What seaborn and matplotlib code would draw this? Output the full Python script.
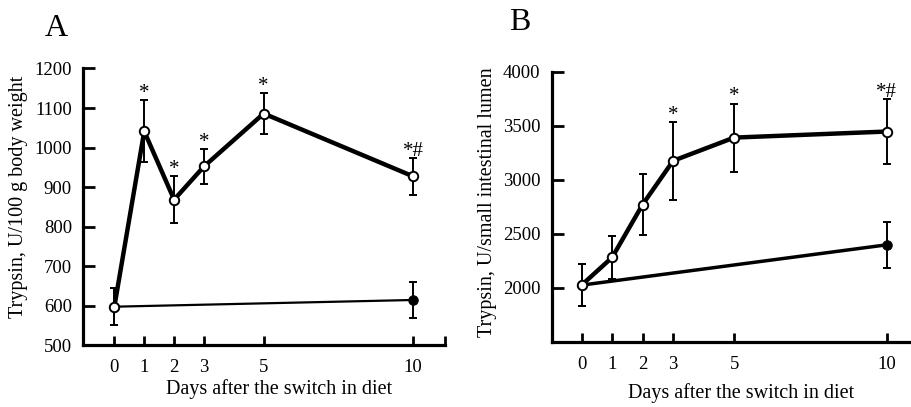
import numpy as np
import pandas as pd
import seaborn as sns
import matplotlib.pyplot as plt

# Days after the switch in diet
days_open = [0, 1, 2, 3, 5, 10]
days_filled = [0, 10]

# Panel A: trypsin, U/100 g body weight
a_open = [597, 1041, 868, 952, 1086, 927]
a_open_err = [47, 78, 60, 45, 52, 47]
a_filled = [597, 614]
a_filled_err = [47, 46]
a_marks = ["", "*", "*", "*", "*", "*#"]

# Panel B: trypsin, U/small intestinal lumen
b_open = [2024, 2280, 2770, 3175, 3390, 3446]
b_open_err = [195, 200, 280, 360, 315, 300]
b_filled = [2024, 2397]
b_filled_err = [195, 212]
b_marks = ["", "", "", "*", "*", "*#"]

sns.set_style("ticks")
plt.rcParams['font.family'] = ['Liberation Serif', 'DejaVu Serif']
plt.rcParams.update({"text.color": "black", "axes.labelcolor": "black",
                     "xtick.color": "black", "ytick.color": "black",
                     "axes.edgecolor": "black"})

fig = plt.figure(figsize=(9.11, 4.07), dpi=100)
ax_a = fig.add_axes([0.0911, 0.1523, 0.3974, 0.6794])
ax_b = fig.add_axes([0.6056, 0.1604, 0.3944, 0.6634])


def draw_panel(ax, y_open, e_open, y_filled, e_filled, marks, filled_lw):
    df_open = pd.DataFrame({"day": days_open, "val": y_open})
    df_filled = pd.DataFrame({"day": days_filled, "val": y_filled})
    ax.errorbar(days_open, y_open, yerr=e_open, fmt="none", ecolor="black",
                elinewidth=1.4, capsize=3, capthick=1.4, zorder=2)
    ax.errorbar(days_filled, y_filled, yerr=e_filled, fmt="none", ecolor="black",
                elinewidth=1.4, capsize=3, capthick=1.4, zorder=2)
    sns.lineplot(data=df_filled, x="day", y="val", ax=ax, color="black",
                 linewidth=filled_lw, marker="o", markersize=6.8, markerfacecolor="black",
                 markeredgecolor="black", zorder=3)
    sns.lineplot(data=df_open, x="day", y="val", ax=ax, color="black",
                 linewidth=3.2, marker="o", markersize=6.8, markerfacecolor="white",
                 markeredgecolor="black", markeredgewidth=1.4, zorder=4)
    # significance marks just above the upper error cap
    for d, v, e, m in zip(days_open, y_open, e_open, marks):
        if m:
            ax.annotate(m, (d, v + e), xytext=(0, 1.5), textcoords="offset points",
                        ha="center", va="baseline", fontsize=15)
    ax.set_xticks(days_open)
    ax.set_xticklabels([str(d) for d in days_open])
    ax.set_xlabel("Days after the switch in diet", fontsize=14.5)
    for s in ["top", "right"]:
        ax.spines[s].set_visible(False)
    for s in ["left", "bottom"]:
        ax.spines[s].set_linewidth(2.3)
    ax.tick_params(direction="in", width=2.0, labelsize=13.5)
    ax.tick_params(axis="x", length=6.5, pad=10)
    ax.tick_params(axis="y", length=8.5, pad=8)
    ax.tick_params(axis="x", which="minor", direction="in", length=6.5, width=2.0)


# Panel A
draw_panel(ax_a, a_open, a_open_err, a_filled, a_filled_err, a_marks, 1.6)
ax_a.set_xlim(-1.05, 11.07)
ax_a.set_ylim(500, 1200)
ax_a.set_yticks(range(500, 1201, 100))
ax_a.set_xticks([11.07], minor=True)
ax_a.set_ylabel("Trypsin, U/100 g body weight", fontsize=14.5)
ax_a.yaxis.set_label_coords(-0.152, 0.534)
ax_a.xaxis.set_label_coords(0.541, -0.122)
fig.text(0.0615, 0.93, "A", fontsize=23, ha="center", va="center")

# Panel B
draw_panel(ax_b, b_open, b_open_err, b_filled, b_filled_err, b_marks, 2.5)
ax_b.set_xlim(-0.98, 10.8)
ax_b.set_ylim(1500, 4000)
ax_b.set_yticks(range(2000, 4001, 500))
ax_b.set_ylabel("Trypsin, U/small intestinal lumen", fontsize=14.5)
ax_b.yaxis.set_label_coords(-0.153, 0.517)
ax_b.xaxis.set_label_coords(0.526, -0.155)
fig.text(0.571, 0.945, "B", fontsize=23, ha="center", va="center")

fig.savefig("out.png", dpi=100)
